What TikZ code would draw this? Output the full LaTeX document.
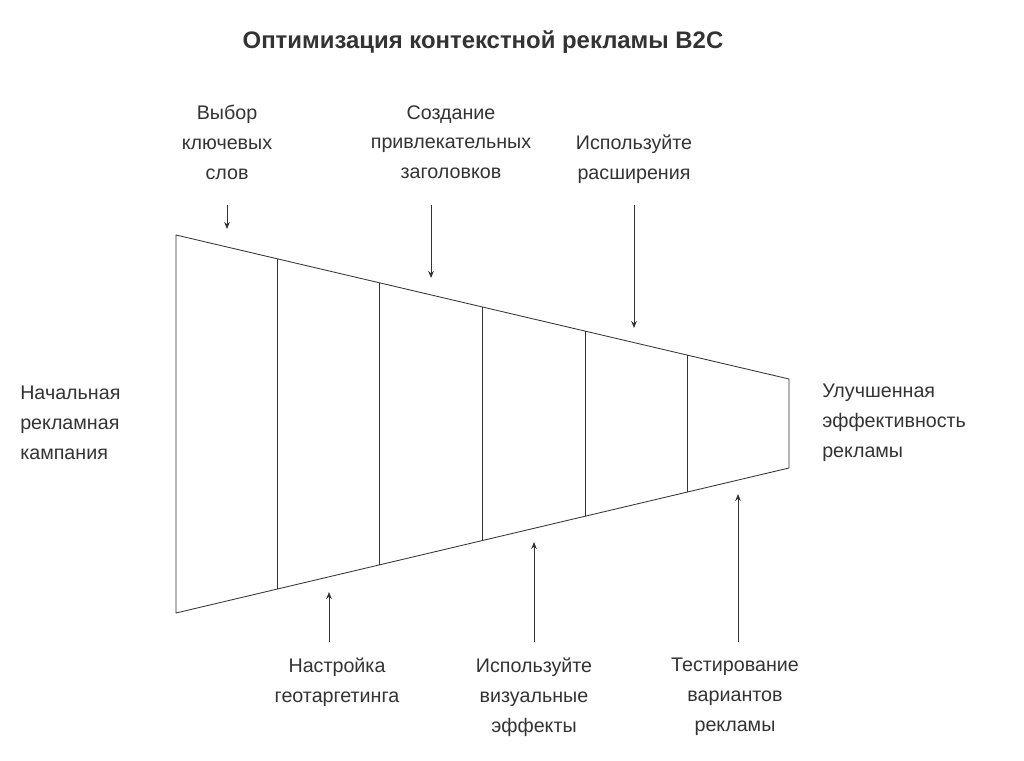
\documentclass[tikz,border=0pt]{standalone}
\usepackage{fontspec}
\setmainfont{Liberation Sans}
\usetikzlibrary{arrows.meta, positioning}
\definecolor{lineclr}{HTML}{333333}
\definecolor{textclr}{HTML}{333333}

\begin{document}
\begin{tikzpicture}[x=0.025cm, y=-0.025cm,
    lbl/.style={font=\fontsize{14}{21.3}\selectfont, text=textclr, align=center, inner sep=0pt},
    stage/.style={draw=lineclr, line width=0.6pt},
    hint/.style={draw=lineclr, line width=0.6pt, -{Stealth[length=5pt, width=4pt]}}
]
\useasboundingbox (0,0) rectangle (1024,761);

% Title
\node[font=\fontsize{17}{20}\selectfont\bfseries, text=textclr] (title) at (483,42) {Оптимизация контекстной рекламы B2C};

% Funnel corners
\coordinate (tl) at (176,235);
\coordinate (bl) at (176,613);
\coordinate (tr) at (789,379);
\coordinate (br) at (789,468);
\draw[stage] (tl) -- (tr) -- (br) -- (bl) -- cycle;
\foreach \x in {277,379,482,585,687} {
    \draw[stage] (\x,{235+(\x-176)*0.2349}) -- (\x,{613-(\x-176)*0.2365});
}

% Top labels and arrows
\node[lbl, anchor=north] (keys) at (227,105) {Выбор\\ключевых\\слов};
\node[lbl, anchor=north] (heads) at (451,105) {Создание\\привлекательных\\заголовков};
\node[lbl, anchor=north] (ext) at (634,135) {Используйте\\расширения};
\coordinate (keysend) at (227,229);
\coordinate (headsend) at (431,278);
\coordinate (extend) at (634,328);
\draw[hint] (227,205) -- (keysend);
\draw[hint] (431,205) -- (headsend);
\draw[hint] (634,205) -- (extend);

% Side labels
\node[lbl, anchor=west, align=left] (start) at (20,423) {Начальная\\рекламная\\кампания};
\node[lbl, anchor=west, align=left] (result) at (822,423) {Улучшенная\\эффективность\\рекламы};

% Bottom labels and arrows
\node[lbl, anchor=north] (geo) at (337,658) {Настройка\\геотаргетинга};
\node[lbl, anchor=north] (vis) at (534,658) {Используйте\\визуальные\\эффекты};
\node[lbl, anchor=north] (test) at (735,658) {Тестирование\\вариантов\\рекламы};
\coordinate (geoend) at (329,592);
\coordinate (visend) at (534,542);
\coordinate (testend) at (738,494);
\draw[hint] (329,642) -- (geoend);
\draw[hint] (534,642) -- (visend);
\draw[hint] (738,642) -- (testend);
\end{tikzpicture}
\end{document}
